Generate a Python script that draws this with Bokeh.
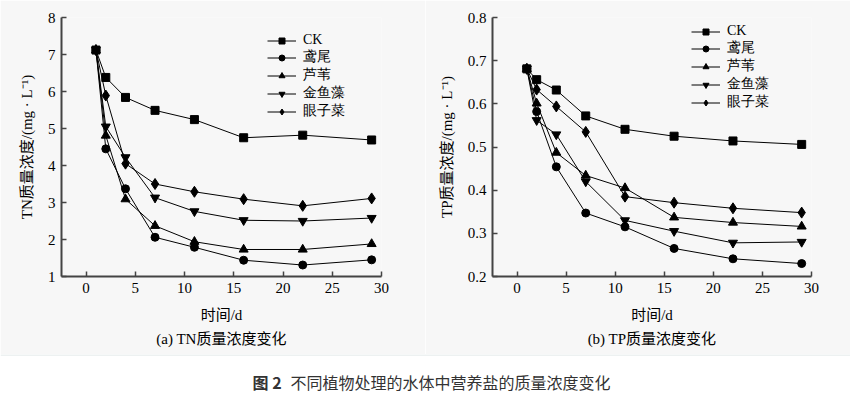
from bokeh.plotting import figure
from bokeh.layouts import column, row
from bokeh.models import Legend, LegendItem, Title, FixedTicker, Range1d
from bokeh.core.properties import value
from bokeh.embed import file_html
from bokeh.resources import INLINE

days = [1, 2, 4, 7, 11, 16, 22, 29]
series_names = ["CK", "鸢尾", "芦苇", "金鱼藻", "眼子菜"]
markers = ["square", "circle", "triangle", "inverted_triangle", "diamond"]
marker_sizes = [8, 8, 9, 9, 11]

tn_ck = [7.12, 6.38, 5.84, 5.49, 5.24, 4.75, 4.82, 4.69]
tn_yw = [7.12, 4.45, 3.37, 2.06, 1.79, 1.44, 1.31, 1.45]
tn_lw = [7.12, 4.81, 3.09, 2.37, 1.94, 1.73, 1.73, 1.88]
tn_jyz = [7.12, 5.05, 4.22, 3.13, 2.76, 2.52, 2.50, 2.58]
tn_yzc = [7.12, 5.89, 4.05, 3.50, 3.29, 3.09, 2.91, 3.11]

tp_ck = [0.681, 0.656, 0.632, 0.572, 0.541, 0.525, 0.514, 0.506]
tp_yw = [0.681, 0.582, 0.454, 0.347, 0.315, 0.265, 0.241, 0.230]
tp_lw = [0.681, 0.601, 0.487, 0.434, 0.405, 0.337, 0.325, 0.316]
tp_jyz = [0.681, 0.562, 0.529, 0.420, 0.330, 0.305, 0.278, 0.280]
tp_yzc = [0.681, 0.633, 0.594, 0.535, 0.385, 0.371, 0.358, 0.348]

x_ticks = [0, 5, 10, 15, 20, 25, 30]
tn_ticks = [1, 2, 3, 4, 5, 6, 7, 8]
tp_ticks = [0.2, 0.3, 0.4, 0.5, 0.6, 0.7, 0.8]

BG = "#f7f7f7"
SERIF = "Liberation Serif, Noto Sans CJK SC"


def make_panel(series, yr, yticks, ylabel, sub, borders, fw, legend_loc):
    left, right, top, bottom = borders
    p = figure(frame_width=fw, frame_height=259, output_backend="svg", toolbar_location=None,
               x_range=Range1d(-2.5, 30), y_range=Range1d(*yr),
               min_border_left=left, min_border_right=right,
               min_border_top=top, min_border_bottom=bottom,
               background_fill_color=BG, border_fill_color=BG)
    p.outline_line_color = None
    p.grid.grid_line_color = None
    items = []
    for name, ys, mk, ms in zip(series_names, series, markers, marker_sizes):
        r1 = p.line(days, ys, line_color="black", line_width=1)
        r2 = p.scatter(days, ys, marker=mk, size=ms, fill_color="black", line_color="black")
        items.append(LegendItem(label=name, renderers=[r1, r2]))
    leg = Legend(items=items, location=legend_loc, border_line_color=None,
                 background_fill_alpha=0, padding=0, margin=0, spacing=0,
                 label_height=15, glyph_height=15, glyph_width=29,
                 label_standoff=7, label_text_font="Liberation Serif",
                 label_text_font_size="14px", label_text_color="black")
    p.add_layout(leg)
    for ax in (p.xaxis[0], p.yaxis[0]):
        ax.axis_line_color = "#444444"
        ax.axis_line_width = 2
        ax.major_tick_line_color = "#444444"
        ax.major_tick_line_width = 1.5
        ax.major_tick_in = 5
        ax.major_tick_out = 0
        ax.minor_tick_line_color = None
        ax.major_label_text_font = SERIF
        ax.major_label_text_font_size = "15px"
        ax.major_label_text_color = "black"
        ax.axis_label_text_font = SERIF
        ax.axis_label_text_font_size = "15px"
        ax.axis_label_text_font_style = "normal"
        ax.axis_label_text_color = "black"
    p.xaxis.ticker = FixedTicker(ticks=x_ticks)
    p.yaxis.ticker = FixedTicker(ticks=yticks)
    p.xaxis.axis_label = "时间/d"
    p.xaxis.major_label_standoff = 6
    p.xaxis.axis_label_standoff = 11
    p.yaxis.axis_label = ylabel
    p.yaxis.major_label_standoff = 6
    p.yaxis.axis_label_standoff = 10
    t = Title(text=sub, align="center", text_font=SERIF, text_font_size="15px",
              text_font_style="normal", text_color="black", standoff=6)
    p.add_layout(t, "below")
    return p


p1 = make_panel([tn_ck, tn_yw, tn_lw, tn_jyz, tn_yzc], (1, 8), tn_ticks,
                "TN质量浓度/(mg · L⁻¹)", "(a) TN质量浓度变化",
                (61, 44, 17, 78), 320, (206, 156))
p2 = make_panel([tp_ck, tp_yw, tp_lw, tp_jyz, tp_yzc], (0.2, 0.8), tp_ticks,
                "TP质量浓度/(mg · L⁻¹)", "(b) TP质量浓度变化",
                (67, 39, 17, 78), 319, (199, 165))

cap = figure(width=850, height=39, output_backend="svg", toolbar_location=None,
             x_range=Range1d(0, 850), y_range=Range1d(0, 39),
             min_border=0, background_fill_color="white", border_fill_color="white")
cap.axis.visible = False
cap.grid.grid_line_color = None
cap.outline_line_color = None
cap.segment(x0=[0], y0=[38.5], x1=[850], y1=[38.5], line_color="#dce3e3", line_width=1)
cap.text(x=[252], y=[12], text=["图 2"], text_font=value("Noto Sans CJK SC"),
         text_font_style="bold", text_font_size="16px", text_baseline="middle",
         text_color="#333333")
cap.text(x=[290], y=[12], text=["不同植物处理的水体中营养盐的质量浓度变化"],
         text_font=value("Noto Sans CJK SC"), text_font_size="16px",
         text_baseline="middle", text_color="#333333")

layout = column(row(p1, p2, spacing=0), cap, spacing=0)
open("out.html", "w").write(file_html(layout, INLINE))
